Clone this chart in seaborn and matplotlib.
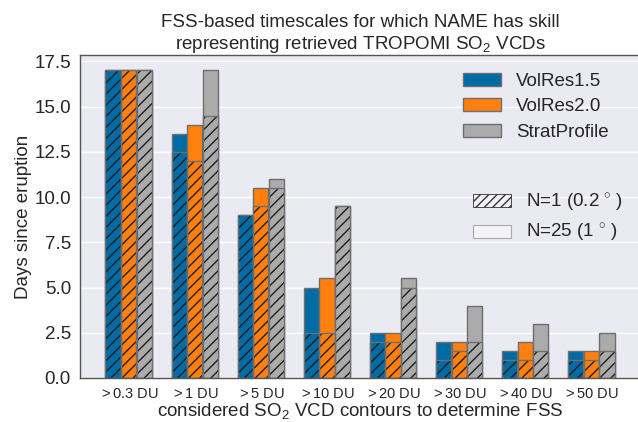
import matplotlib
matplotlib.use("Agg")
import matplotlib.pyplot as plt
import matplotlib.patches as mpatches
import seaborn as sns
import pandas as pd

categories = ['$>$0.3 DU', '$>$1 DU', '$>$5 DU', '$>$10 DU',
              '$>$20 DU', '$>$30 DU', '$>$40 DU', '$>$50 DU']
models = ['VolRes1.5', 'VolRes2.0', 'StratProfile']
colors = ['#006BA4', '#FF800E', '#ABABAB']

# N=25 (1 degree) timescales [days]
n25_volres15 = [17, 13.5, 9, 5, 2.5, 2, 1.5, 1.5]
n25_volres20 = [17, 14, 10.5, 5.5, 2.5, 2, 2, 1.5]
n25_strat = [17, 17, 11, 9.5, 5.5, 4, 3, 2.5]
# N=1 (0.2 degree) timescales [days]
n1_volres15 = [17, 12.5, 9, 2.5, 2, 1, 1, 1]
n1_volres20 = [17, 12, 9.5, 2.5, 2, 1.5, 1, 1]
n1_strat = [17, 14.5, 10.5, 9.5, 5, 2, 1.5, 1.5]

def long_df(series):
    rows = []
    for m, vals in zip(models, series):
        for c, v in zip(categories, vals):
            rows.append({'contour': c, 'model': m, 'days': v})
    return pd.DataFrame(rows)

df25 = long_df([n25_volres15, n25_volres20, n25_strat])
df1 = long_df([n1_volres15, n1_volres20, n1_strat])

sns.set_theme(style="darkgrid")
plt.rcParams['font.family'] = ['Liberation Sans', 'DejaVu Sans']
plt.rcParams['mathtext.fontset'] = 'custom'
plt.rcParams['mathtext.rm'] = 'Liberation Sans'
plt.rcParams['mathtext.it'] = 'Liberation Sans:italic'
plt.rcParams['mathtext.bf'] = 'Liberation Sans:bold'
plt.rcParams['hatch.linewidth'] = 1.0

fig = plt.figure(figsize=(6.38, 4.22), dpi=100)
ax = fig.add_axes([80/638, 44/422, 560/638, 323/422])

edge_gray = '#6e6e6e'
common = dict(x='contour', y='days', hue='model', order=categories,
              hue_order=models, palette=colors, width=0.72, gap=0.05,
              saturation=1, legend=False, ax=ax, errorbar=None)

sns.barplot(data=df25, edgecolor=edge_gray, linewidth=1, **common)
sns.barplot(data=df1, hatch='///', edgecolor='#1e1e1e', linewidth=0, **common)
n_mid = len(ax.patches)
sns.barplot(data=df1, fill=False, linewidth=1, **common)
for p in ax.patches[n_mid:]:
    p.set_edgecolor(edge_gray)
    p.set_facecolor('none')
    p.set_linewidth(1)

ax.set_xlim(-0.74, 7.74)
ax.set_ylim(0, 17.85)
ax.set_yticks([0, 2.5, 5, 7.5, 10, 12.5, 15, 17.5])
ax.set_yticklabels(['0.0', '2.5', '5.0', '7.5', '10.0', '12.5', '15.0', '17.5'])

for s in ax.spines.values():
    s.set_visible(True)
    s.set_color('#555555')
    s.set_linewidth(1)
ax.tick_params(axis='both', length=3.5, width=1, color='#333333')
ax.tick_params(axis='y', labelsize=13.5, pad=3)
ax.tick_params(axis='x', labelsize=10.5, pad=3)

ax.set_xlabel('considered SO$_2$ VCD contours to determine FSS', fontsize=13.5, labelpad=0)
ax.set_ylabel('Days since eruption', fontsize=13.5, labelpad=2)
ax.set_title('FSS-based timescales for which NAME has skill\n'
             'representing retrieved TROPOMI SO$_2$ VCDs', fontsize=13.5, pad=4)

h1 = [mpatches.Patch(facecolor=c, edgecolor=edge_gray, label=m)
      for c, m in zip(colors, models)]
fig.legend(handles=h1, loc='upper left', bbox_to_anchor=(455/638, 1 - 65/422),
           bbox_transform=fig.transFigure, borderaxespad=0, frameon=False,
           fontsize=13.5, handlelength=2.05, handleheight=0.7,
           handletextpad=0.8, labelspacing=0.45)
h2 = [mpatches.Patch(facecolor='#f4f4f8', edgecolor='#333333', hatch='////',
                     linewidth=0.6, label='N=1 (0.2$\\,^\\circ\\,$)'),
      mpatches.Patch(facecolor='#f4f4f8', edgecolor='#aaaaaa', linewidth=0.8,
                     label='N=25 (1$\\,^\\circ\\,$)')]
fig.legend(handles=h2, loc='upper left', bbox_to_anchor=(465/638, 1 - 184/422),
           bbox_transform=fig.transFigure, borderaxespad=0, frameon=False,
           fontsize=13.5, handlelength=2.05, handleheight=0.7,
           handletextpad=0.8, labelspacing=0.45)

fig.savefig('out.png', dpi=100)
